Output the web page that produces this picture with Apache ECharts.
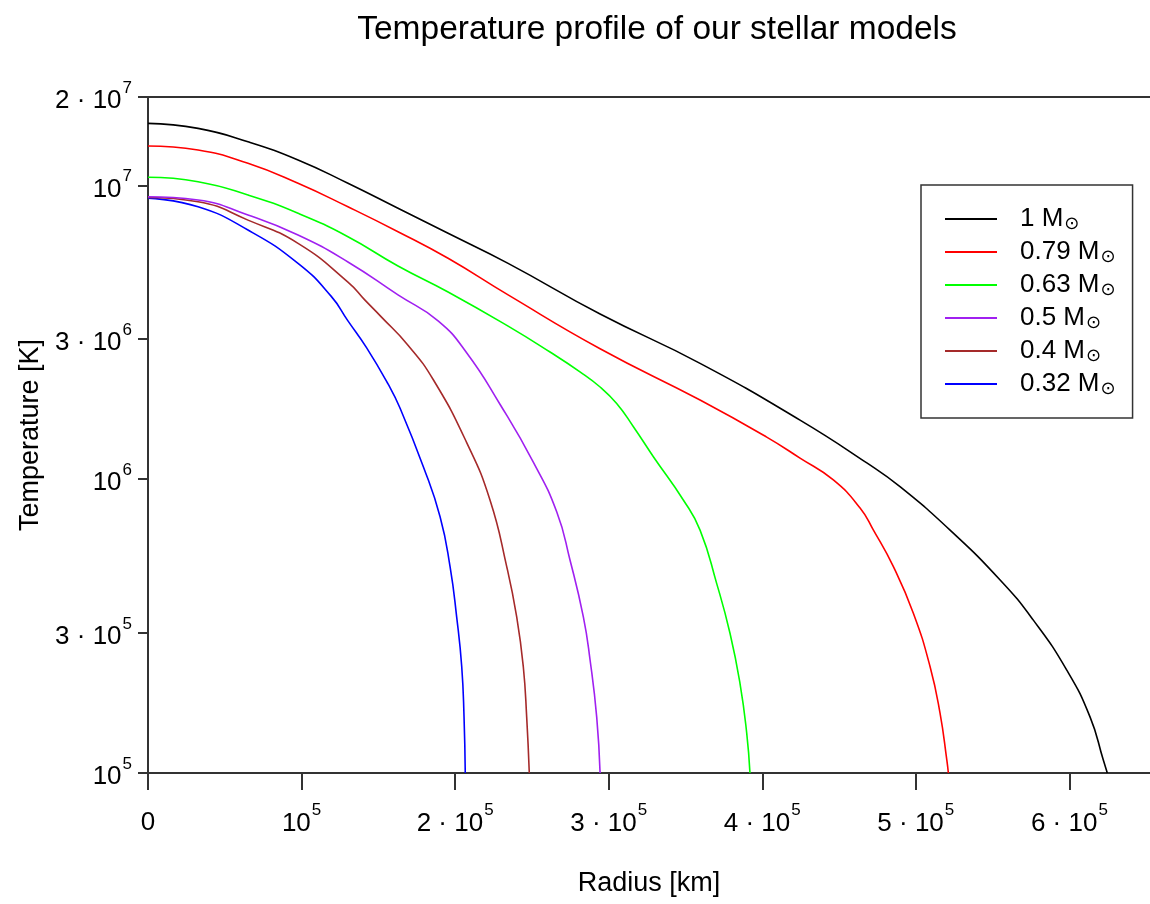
<!DOCTYPE html>
<html>
<head>
<meta charset="utf-8">
<script src="https://cdn.jsdelivr.net/npm/echarts@6/dist/echarts.min.js"></script>
<style>html,body{margin:0;padding:0;background:#fff}#c{width:1150px;height:904px}</style>
</head>
<body>
<div id="c"></div>
<script>
// ---- data (radius in km, temperature in K) ----
const seriesNames = ['1 M⊙', '0.79 M⊙', '0.63 M⊙', '0.5 M⊙', '0.4 M⊙', '0.32 M⊙'];

const r_100 = [0, 32600, 65100, 97700, 130200, 162800, 195400, 234500, 294400, 359500, 424600, 468100, 489700, 522300, 554900, 576400, 598300, 613500, 622100, 624700];
const T_100 = [1.627e7, 1.564e7, 1.408e7, 1.221e7, 1.017e7, 8.36e6, 6.87e6, 5.43e6, 3.65e6, 2.48e6, 1.589e6, 1.136e6, 9.43e5, 6.71e5, 4.54e5, 3.32e5, 2.24e5, 1.55e5, 1.107e5, 1.0e5];

const r_079 = [0, 32600, 65100, 97700, 130200, 162800, 195400, 234500, 294400, 359500, 402900, 424600, 446300, 463700, 472400, 485400, 498400, 509300, 515800, 520200, 521200];
const T_079 = [1.362e7, 1.320e7, 1.189e7, 1.017e7, 8.46e6, 6.96e6, 5.65e6, 4.24e6, 2.78e6, 1.86e6, 1.391e6, 1.180e6, 9.94e5, 7.98e5, 6.71e5, 5.04e5, 3.50e5, 2.30e5, 1.596e5, 1.107e5, 1.0e5];

const r_063 = [0, 32600, 65100, 97700, 130200, 162800, 195400, 234500, 261800, 281300, 294400, 305200, 316100, 329100, 348600, 359500, 370300, 379000, 385500, 389900, 392000];
const T_063 = [1.066e7, 1.030e7, 9.28e6, 8.04e6, 6.69e6, 5.32e6, 4.34e6, 3.32e6, 2.71e6, 2.32e6, 2.06e6, 1.81e6, 1.509e6, 1.193e6, 8.50e5, 6.71e5, 4.42e5, 2.99e5, 2.02e5, 1.365e5, 1.0e5];

const r_050 = [0, 32600, 65100, 97700, 130200, 162800, 188900, 207600, 229200, 250900, 266200, 274800, 283500, 287900, 292200, 294400];
const T_050 = [9.15e6, 8.92e6, 7.93e6, 6.78e6, 5.49e6, 4.24e6, 3.46e6, 2.69e6, 1.80e6, 1.144e6, 7.73e5, 5.31e5, 3.40e5, 2.42e5, 1.55e5, 1.0e5];

const r_040 = [0, 32600, 65100, 97700, 130200, 141300, 151900, 169300, 185800, 207600, 222700, 233600, 240100, 244400, 246600, 248300];
const T_040 = [9.1e6, 8.80e6, 7.62e6, 6.35e6, 4.69e6, 4.07e6, 3.57e6, 2.86e6, 2.18e6, 1.33e6, 8.50e5, 5.04e5, 3.40e5, 2.30e5, 1.55e5, 1.0e5];

const r_032 = [0, 32600, 65100, 97700, 119200, 130200, 142400, 156300, 164100, 179300, 190200, 196700, 201000, 204300, 205800, 206600];
const T_032 = [9.05e6, 8.46e6, 7.05e6, 5.43e6, 4.20e6, 3.46e6, 2.80e6, 2.11e6, 1.747e6, 1.103e6, 7.45e5, 5.04e5, 3.40e5, 2.30e5, 1.55e5, 1.0e5];

const xTickValues = [0, 100000, 200000, 300000, 400000, 500000, 600000];
const xTickLabels = ['0', '10^5', '2 · 10^5', '3 · 10^5', '4 · 10^5', '5 · 10^5', '6 · 10^5'];
const yTickValues = [1e5, 3e5, 1e6, 3e6, 1e7, 2e7];
const yTickLabels = ['10^5', '3 · 10^5', '10^6', '3 · 10^6', '10^7', '2 · 10^7'];

// ---- chart ----
const FONT = "'Liberation Sans', Arial, Helvetica, sans-serif";
const colors = ['#000000', '#ff0000', '#00ff00', '#a020f0', '#a52a2a', '#0000ff'];
const radii = [r_100, r_079, r_063, r_050, r_040, r_032];
const temps = [T_100, T_079, T_063, T_050, T_040, T_032];

function richLabel(s) {
  if (s.indexOf('^') < 0) return '{n|' + s + '}';
  const p = s.split('^');
  return '{n|' + p[0] + '}{sup|' + p[1] + '}';
}
function nearestLabel(v, vals, labels, log) {
  let best = 0, bd = Infinity;
  for (let i = 0; i < vals.length; i++) {
    const d = log ? Math.abs(Math.log(v) - Math.log(vals[i])) : Math.abs(v - vals[i]);
    if (d < bd) { bd = d; best = i; }
  }
  return richLabel(labels[best]);
}
const richTick = {
  n: { fontFamily: FONT, fontSize: 26, color: '#000', padding: [8, 0, 0, 0] },
  sup: { fontFamily: FONT, fontSize: 17, color: '#000', padding: [0, 0, 18, 1] }
};

const chart = echarts.init(document.getElementById('c'), null, { renderer: 'canvas' });
chart.setOption({
  backgroundColor: '#fff',
  animation: false,
  title: {
    text: 'Temperature profile of our stellar models',
    left: 652, top: 8, textAlign: 'center',
    textStyle: { fontFamily: FONT, fontSize: 33.5, fontWeight: 'normal', color: '#000' }
  },
  legend: {
    orient: 'vertical', left: 921, top: 185,
    padding: [20, 17, 20, 24],
    itemGap: 5, itemWidth: 52, itemHeight: 2, icon: 'rect',
    borderColor: '#333', borderWidth: 1.5,
    data: seriesNames,
    formatter: function (name) {
      return '{t|' + name.slice(0, -1) + '}{s|' + name.slice(-1) + '}';
    },
    textStyle: {
      fontFamily: FONT, fontSize: 26, color: '#000', padding: [0, 0, 0, 18],
      rich: {
        t: { fontFamily: FONT, fontSize: 26, color: '#000' },
        s: { fontFamily: "'DejaVu Sans', sans-serif", fontSize: 18, color: '#000', lineHeight: 20, padding: [10, 0, 0, 1] }
      }
    }
  },
  grid: { left: 148, right: 0, top: 97, bottom: 131, containLabel: false },
  xAxis: [{
    type: 'value', min: 0, max: 652500,
    name: 'Radius [km]', nameLocation: 'middle', nameGap: 97,
    nameTextStyle: { fontFamily: FONT, fontSize: 27, color: '#000' },
    axisLine: { show: true, onZero: false, lineStyle: { color: '#333', width: 2 } },
    axisTick: { show: true, length: 17, lineStyle: { color: '#333', width: 2 }, customValues: xTickValues },
    axisLabel: {
      margin: 29, customValues: xTickValues,
      formatter: v => nearestLabel(v, xTickValues, xTickLabels, false),
      rich: richTick
    },
    splitLine: { show: false }
  }, {
    type: 'value', position: 'top', min: 0, max: 652500,
    axisLine: { show: true, onZero: false, lineStyle: { color: '#333', width: 2 } },
    axisTick: { show: false }, axisLabel: { show: false }, splitLine: { show: false }
  }],
  yAxis: {
    type: 'log', logBase: 10, min: 1e5, max: 2e7,
    name: 'Temperature [K]', nameLocation: 'middle', nameGap: 101,
    nameTextStyle: { fontFamily: FONT, fontSize: 27, color: '#000' },
    axisLine: { show: true, onZero: false, lineStyle: { color: '#333', width: 2 } },
    axisTick: { show: true, length: 10, lineStyle: { color: '#333', width: 2 }, customValues: yTickValues },
    axisLabel: {
      margin: 16, customValues: yTickValues,
      formatter: v => nearestLabel(v, yTickValues, yTickLabels, true),
      rich: richTick
    },
    splitLine: { show: false }, minorTick: { show: false }
  },
  series: seriesNames.map((name, i) => ({
    name: name, type: 'line', xAxisIndex: 0,
    data: radii[i].map((r, j) => [r, temps[i][j]]),
    showSymbol: false, symbol: 'none', smooth: 0.5,
    lineStyle: { color: colors[i], width: 1.6 },
    itemStyle: { color: colors[i] },
    z: 10 - i
  }))
});
</script>
</body>
</html>
